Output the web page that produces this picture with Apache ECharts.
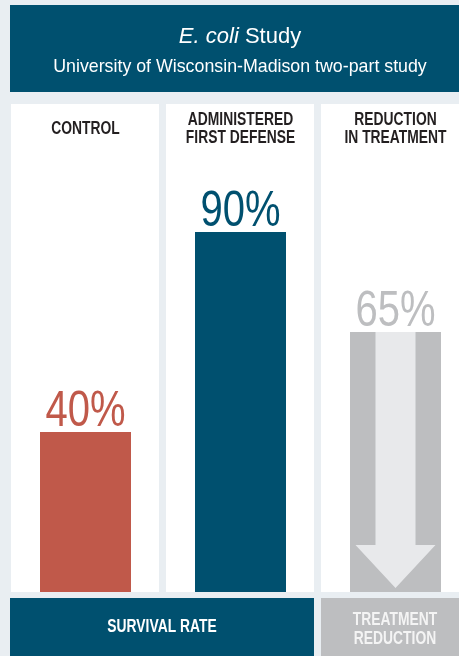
<!DOCTYPE html>
<html>
<head>
<meta charset="utf-8">
<script src="https://cdn.jsdelivr.net/npm/echarts@6/dist/echarts.min.js"></script>
<style>
html,body{margin:0;padding:0;background:#e9eef2;}
#c{width:459px;height:656px;}
</style>
</head>
<body>
<div id="c"></div>
<script>
const categories = ['CONTROL', 'ADMINISTERED\nFIRST DEFENSE', 'REDUCTION\nIN TREATMENT'];
const values = [40, 90, 65];
const barColors = ['#c0594a', '#00506f', '#bdbec0'];
const arrowColor = '#e8e9eb';
const titleItalic = 'E. coli';
const titleRest = ' Study';
const subtitle = 'University of Wisconsin-Madison two-part study';
const footerLabels = ['SURVIVAL RATE', 'TREATMENT\nREDUCTION'];
const arrowIndex = 2;

const SANS = '"Liberation Sans", Arial, Helvetica, sans-serif';
const NARROW = 0.77;

const chart = echarts.init(document.getElementById('c'), null, {renderer: 'canvas'});

const option = {
  backgroundColor: '#e9eef2',
  animation: false,
  grid: {left: 8, top: 192, width: 465, bottom: 64, outerBoundsMode: 'none', containLabel: false},
  xAxis: {
    type: 'category',
    data: categories,
    show: false
  },
  yAxis: {type: 'value', min: 0, max: 100, show: false, splitLine: {show: false}},
  graphic: [
    {type: 'rect', z: -10, shape: {x: 10, y: 5, width: 459, height: 87}, style: {fill: '#00506f'}},
    {type: 'text', z: 10, x: 240, y: 37, style: {
      text: '{i|' + titleItalic + '}{r|' + titleRest + '}',
      align: 'center', verticalAlign: 'middle',
      rich: {
        i: {fontFamily: SANS, fontStyle: 'italic', fontSize: 22, fill: '#ffffff'},
        r: {fontFamily: SANS, fontSize: 22, fill: '#ffffff'}
      }
    }},
    {type: 'text', z: 10, x: 240, y: 67, style: {
      text: subtitle, align: 'center', verticalAlign: 'middle',
      fontFamily: SANS, fontSize: 17.8, fill: '#ffffff'
    }},
    {type: 'rect', z: -10, shape: {x: 11, y: 104, width: 148, height: 488}, style: {fill: '#ffffff'}},
    {type: 'rect', z: -10, shape: {x: 166, y: 104, width: 148, height: 488}, style: {fill: '#ffffff'}},
    {type: 'rect', z: -10, shape: {x: 321, y: 104, width: 148, height: 488}, style: {fill: '#ffffff'}},
    {type: 'rect', z: -10, shape: {x: 10, y: 598, width: 304, height: 58}, style: {fill: '#00506f'}},
    {type: 'rect', z: -10, shape: {x: 321, y: 598, width: 148, height: 58}, style: {fill: '#bdbec0'}},
    {type: 'text', z: 10, x: 162, y: 627.5, scaleX: NARROW, style: {
      text: footerLabels[0], align: 'center', verticalAlign: 'middle',
      fontFamily: SANS, fontWeight: 'bold', fontSize: 18, fill: '#ffffff'
    }},
    {type: 'text', z: 10, x: 395, y: 629.5, scaleX: NARROW, style: {
      text: footerLabels[1], align: 'center', verticalAlign: 'middle',
      fontFamily: SANS, fontWeight: 'bold', fontSize: 18, lineHeight: 19, fill: '#f4f4f4'
    }}
  ],
  series: [
    {
      type: 'bar',
      barWidth: 91,
      data: values.map((v, i) => ({value: v, itemStyle: {color: barColors[i]}}))
    },
    {
      type: 'custom',
      data: [[arrowIndex, values[arrowIndex]]],
      encode: {x: 0, y: 1},
      z: 5,
      renderItem: function (params, api) {
        const top = api.coord([api.value(0), api.value(1)]);
        const base = api.coord([api.value(0), 0]);
        const cx = top[0];
        const sh = 20, hh = 40, headH = 43, gap = 4;
        const hy = base[1] - gap - headH;
        return {
          type: 'polygon',
          shape: {points: [
            [cx - sh, top[1]], [cx + sh, top[1]], [cx + sh, hy], [cx + hh, hy],
            [cx, base[1] - gap], [cx - hh, hy], [cx - sh, hy]
          ]},
          style: {fill: arrowColor}
        };
      }
    },
    {
      type: 'custom',
      data: values.map((v, i) => [i, v]),
      encode: {x: 0, y: 1},
      z: 6,
      renderItem: function (params, api) {
        const i = api.value(0);
        const top = api.coord([i, api.value(1)]);
        const ceil = api.coord([i, 100]);
        return {
          type: 'group',
          children: [
            {
              type: 'text', x: top[0], y: top[1] - 19.5, scaleX: 0.8,
              style: {
                text: api.value(1) + '%', align: 'center', verticalAlign: 'middle',
                fontFamily: SANS, fontSize: 50, fill: barColors[i]
              }
            },
            {
              type: 'text', x: top[0], y: ceil[1] - 62.6, scaleX: NARROW,
              style: {
                text: categories[i], align: 'center', verticalAlign: 'middle',
                fontFamily: SANS, fontWeight: 'bold', fontSize: 18, lineHeight: 18,
                fill: '#231f20'
              }
            }
          ]
        };
      }
    }
  ]
};
chart.setOption(option);
</script>
</body>
</html>
